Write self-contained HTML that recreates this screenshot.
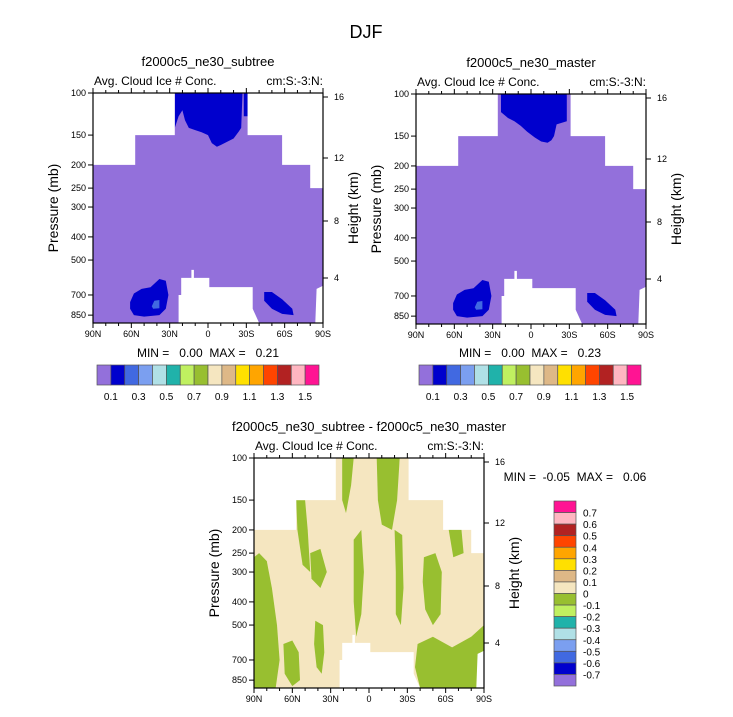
<!DOCTYPE html>
<html><head><meta charset="utf-8">
<style>
body{margin:0;background:#fff;}
svg text{font-family:"Liberation Sans",sans-serif;fill:#000;white-space:pre;}
</style></head>
<body>
<svg id="c" width="733" height="712" xmlns="http://www.w3.org/2000/svg">
<text x="366" y="38" font-size="18" text-anchor="middle">DJF</text>
</svg>
<script>
const presTicks=[100,150,200,250,300,400,500,700,850];
const latTicks=[90,60,30,0,-30,-60,-90];
const latLabels=["90N","60N","30N","0","30S","60S","90S"];
const heightTicks=[16,12,8,4];
const heightY=[4,65,128,185];
const cbColors=["#9370db","#0000cd","#4169e1","#7b9ff0","#b0e0e6","#20b2aa","#c0f060","#98bf30","#f5e6c0","#deb887","#ffe000","#ffa500","#ff4500","#b22222","#ffb6c1","#ff1493"];
const cbTopLabels=["0.1","0.3","0.5","0.7","0.9","1.1","1.3","1.5"];
const cbDiffLabels=["0.7","0.6","0.5","0.4","0.3","0.2","0.1","0","-0.1","-0.2","-0.3","-0.4","-0.5","-0.6","-0.7"];
const maskTop=[[90,100],[26,100],[26,150],[57,150],[57,200],[90,200]];
const maskTopR=[[-90,100],[-31,100],[-31,150],[-58,150],[-58,200],[-80,200],[-80,250],[-90,250]];
const maskBot=[[23,916],[23,700],[21,700],[21,594],[13,594],[13,550],[11,550],[11,594],[-1,594],[-1,649],[-35,649],[-35,800],[-40,916]];
const maskBotR=[[-90,916],[-84,916],[-85,660],[-90,640]];
const blueTopA=[[26,100],[26,140],[23,125],[20,118],[18,130],[15,140],[10,143],[5,146],[0,150],[-3,162],[-7,168],[-10,165],[-15,160],[-20,155],[-24,145],[-26,140],[-27,100],[-28,100],[-28,125],[-31,125],[-31,100]];
const blueTopB=[[23.5,100],[23.5,119],[18,126],[13,130],[8,136],[3,144],[-3,152],[-8,158],[-13,160],[-16,156],[-18,150],[-20,134],[-28,130],[-28,100]];
const blobL=[[61,750],[58,690],[52,660],[45,650],[38,600],[33,610],[31,700],[33,800],[38,850],[50,862],[58,850],[61,800]];
const blobLi=[[44,780],[42,740],[38,735],[38,795],[43,800]];
const blobR=[[-44,680],[-44,740],[-50,800],[-58,840],[-67,850],[-66,800],[-58,730],[-50,680]];
const greens=[
[[90,260],[86,250],[80,270],[76,350],[72,500],[70,700],[73,916],[90,916]],
[[67,600],[60,580],[55,650],[54,850],[60,900],[66,800]],
[[57,150],[50,150],[48,200],[46,300],[52,280],[56,200]],
[[42,480],[36,500],[35,650],[37,800],[41,750],[43,600]],
[[46,250],[38,240],[33,300],[38,350],[45,320]],
[[21,100],[12,100],[14,130],[18,170],[21,150]],
[[12,220],[6,200],[4,300],[6,450],[10,560],[12,400]],
[[-6,100],[-24,100],[-22,150],[-18,200],[-10,190],[-7,150]],
[[-20,200],[-26,210],[-27,350],[-25,500],[-21,450],[-21,300]],
[[-43,260],[-52,250],[-57,300],[-56,450],[-50,500],[-44,430],[-42,330]],
[[-38,600],[-50,560],[-65,620],[-80,560],[-90,500],[-90,916],[-40,916],[-36,750]],
[[-61,180],[-72,190],[-74,250],[-66,260]]
];
const svg=document.getElementById('c');
const NS="http://www.w3.org/2000/svg";
function mk(tag,attrs,name,parent){const e=document.createElementNS(NS,tag);for(const k in attrs)e.setAttribute(k,attrs[k]);


(parent||svg).appendChild(e);return e;}
function txt(x,y,s,size,anchor,name,extra){const t=mk('text',Object.assign({x:x,y:y,'font-size':size,'text-anchor':anchor||'start'},extra||{}),name);t.textContent=s;return t;}
function panel(x0,y0,title,isDiff,blueTop){
 const W=230,H=230;
 const xs=lat=>x0+(90-lat)/180*W;
 const ys=p=>y0+Math.log10(p/100)*239;
 const pts=a=>a.map(q=>xs(q[0]).toFixed(1)+","+ys(q[1]).toFixed(1)).join(" ");
 const g=mk('g',{},isDiff?'difference-panel':'model-panel');
 txt(x0+W/2,y0-27,title,13,'middle','panel-title');
 txt(x0+1,y0-8,"Avg. Cloud Ice # Conc.",12,'start','variable-label');
 txt(x0+W,y0-8,"cm:S:-3:N:",12,'end','colormap-label');
 mk('rect',{x:x0,y:y0,width:W,height:H,fill:isDiff?'#f5e6c0':'#9370db'},'plot-fill',g);
 if(isDiff){greens.forEach(a=>mk('polygon',{points:pts(a),fill:'#98bf30'},'negative-region',g));}
 else{
  mk('polygon',{points:pts(blueTop),fill:'#0000cd'},'high-ice-upper',g);
  mk('polygon',{points:pts(blobL),fill:'#0000cd'},'high-ice-nh',g);
  mk('polygon',{points:pts(blobLi),fill:'#4169e1'},'higher-ice-nh',g);
  mk('polygon',{points:pts(blobR),fill:'#0000cd'},'high-ice-sh',g);
 }
 [maskTop,maskTopR,maskBot,maskBotR].forEach(a=>mk('polygon',{points:pts(a),fill:'#fff'},'missing-data',g));
 mk('rect',{x:x0,y:y0,width:W,height:H,fill:'none',stroke:'#000','stroke-width':1.2},'plot-frame',g);
 presTicks.forEach(p=>{mk('line',{x1:x0-5,x2:x0,y1:ys(p),y2:ys(p),stroke:'#000'},'y-tick',g);
  txt(x0-7,ys(p)+3,String(p),9,'end','y-tick-label');});
 latTicks.forEach((l,i)=>{const x=xs(l);
  mk('line',{x1:x,x2:x,y1:y0+H,y2:y0+H+5,stroke:'#000'},'x-tick',g);
  mk('line',{x1:x,x2:x,y1:y0,y2:y0-5,stroke:'#000'},'x-tick-top',g);
  txt(x,y0+H+14,latLabels[i],9,'middle','x-tick-label');});
 for(let l=80;l>-90;l-=10){if(l%30){const x=xs(l);
  mk('line',{x1:x,x2:x,y1:y0+H,y2:y0+H+3,stroke:'#000'},'x-minor-tick',g);
  mk('line',{x1:x,x2:x,y1:y0,y2:y0-3,stroke:'#000'},'x-minor-tick-top',g);}}
 heightTicks.forEach((h,i)=>{const y=y0+heightY[i];
  mk('line',{x1:x0+W,x2:x0+W+5,y1:y,y2:y,stroke:'#000'},'height-tick',g);
  txt(x0+W+11,y+3,String(h),9,'start','height-tick-label');});
 txt(0,0,"Pressure (mb)",14,'middle','y-axis-title',{transform:`translate(${x0-35},${y0+H/2}) rotate(-90)`});
 txt(0,0,"Height (km)",14,'middle','right-axis-title',{transform:`translate(${x0+W+35},${y0+H/2}) rotate(-90)`});
}
panel(93,93,"f2000c5_ne30_subtree",false,blueTopA);
panel(416,94,"f2000c5_ne30_master",false,blueTopB);
panel(254,458,"f2000c5_ne30_subtree - f2000c5_ne30_master",true,null);
txt(208,357,"MIN =   0.00  MAX =   0.21",12,'middle','min-max-text');
txt(530,357,"MIN =   0.00  MAX =   0.23",12,'middle','min-max-text');
txt(575,481,"MIN =  -0.05  MAX =   0.06",12,'middle','min-max-text');
function hbar(x0,y0){const bw=222/16;
 cbColors.forEach((c,i)=>mk('rect',{x:x0+i*bw,y:y0,width:bw,height:20,fill:c,stroke:'#555','stroke-width':0.7},'colorbar-box'));
 cbTopLabels.forEach((s,i)=>txt(x0+(2*i+1)*bw,y0+35,s,10,'middle','colorbar-label'));}
hbar(97,365);hbar(419,365);
(function(){const x0=554,y0=501,bh=185/16;
 cbColors.slice().reverse().forEach((c,i)=>mk('rect',{x:x0,y:y0+i*bh,width:22,height:bh,fill:c,stroke:'#555','stroke-width':0.7},'colorbar-box'));
 cbDiffLabels.forEach((s,i)=>txt(x0+29,y0+(i+1)*bh+4,s,10,'start','colorbar-label'));})();
</script>
</body></html>
